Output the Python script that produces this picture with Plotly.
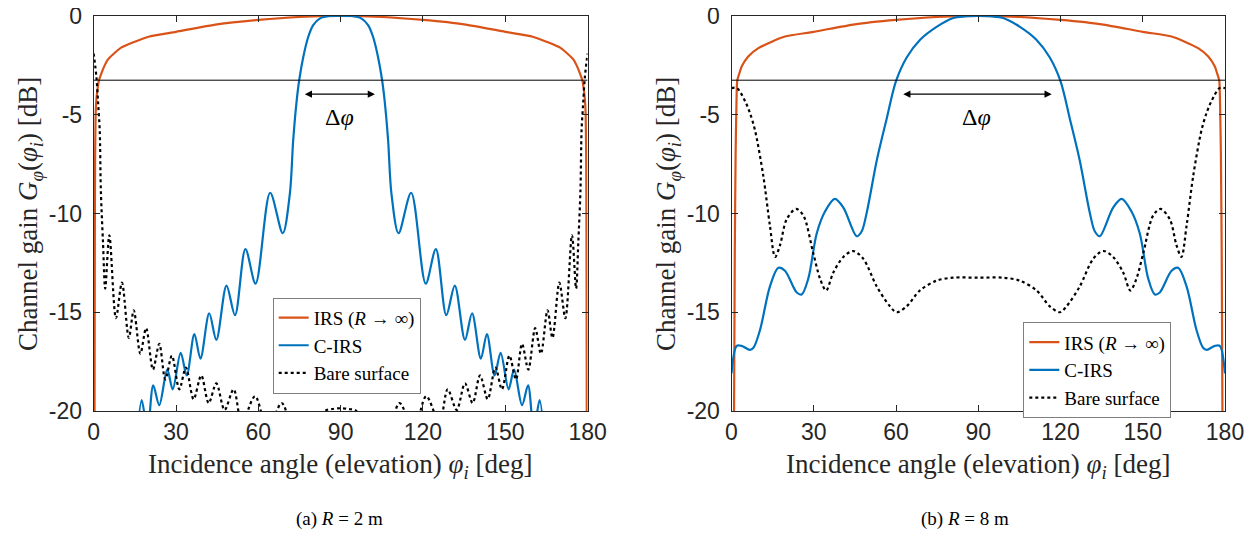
import plotly.graph_objects as go

# ---------------- data ----------------
# (a) R = 2 m
irs_a_phi = [0.3, 0.4, 0.5, 0.7, 1.0, 1.4, 1.9, 2.8, 4.0, 5.2, 7.0, 10, 15, 20, 30, 45, 60, 75, 90,
             105, 120, 135, 150, 160, 165, 170, 173, 174.8, 176.0, 177.2, 178.1, 178.6, 179.0, 179.3, 179.5, 179.6, 179.7]
irs_a_db = [-21, -12, -7.5, -5.0, -4.2, -3.7, -3.27, -2.9, -2.5, -2.2, -1.95, -1.6, -1.3, -1.05, -0.8, -0.42, -0.2, -0.05, 0,
            -0.05, -0.2, -0.42, -0.8, -1.05, -1.3, -1.6, -1.95, -2.2, -2.5, -2.9, -3.27, -3.7, -4.2, -5.0, -7.5, -12, -21]

cirs_a_phi = [15.5, 17.5, 19.6, 21.7, 23.9, 26.8, 28.8, 31.7, 33.9, 36.7, 38.9, 42.1, 44.7, 48.4, 51.5, 55.3, 59.0,
              64.3, 68.9, 71.5, 72.7, 74.0, 74.9, 76.4, 78.2, 80.0, 82.5, 86.0, 90.0,
              94.0, 97.5, 100.0, 101.8, 103.6, 105.1, 106.0, 107.3, 108.5, 111.1, 115.7, 121.0, 124.7, 128.5,
              131.6, 135.3, 137.9, 141.1, 143.3, 146.1, 148.3, 151.2, 153.2, 156.1, 158.3, 160.4, 162.5, 164.5]
cirs_a_db = [-22, -19.45, -21, -18.7, -19.7, -17.9, -18.9, -17.05, -18.2, -16.1, -17.35, -15.05, -16.4, -13.65, -15.15, -11.8, -13.55,
             -8.95, -11.0, -8.98, -6.3, -4.25, -3.24, -2.06, -1.05, -0.46, -0.12, 0, 0,
             0, -0.12, -0.46, -1.05, -2.06, -3.24, -4.25, -6.3, -8.98, -11.0, -8.95, -13.55, -11.8, -15.15,
             -13.65, -16.4, -15.05, -17.35, -16.1, -18.2, -17.05, -18.9, -17.9, -19.7, -18.7, -21, -19.45, -22]

bare_a_phi = [0, 1.0, 1.6, 2.2, 2.6, 3.4, 4.2, 5.7, 8.1, 10.3, 12.8, 14.6, 17.0, 19.1, 21.6, 23.9, 26.1, 28.5,
              31.2, 33.6, 36.4, 39.2, 41.9, 44.7, 47.7, 51.0, 54.0, 58.8, 63.5, 68.5, 75.0, 80.0, 84.3, 87.0, 90.0,
              93.0, 95.7, 100.0, 105.0, 111.5, 116.5, 121.2, 126.0, 129.0, 132.3, 135.3, 138.1, 140.8, 143.6, 146.4,
              148.8, 151.5, 153.9, 156.1, 158.4, 160.9, 163.0, 165.4, 167.2, 169.7, 171.9, 174.3, 175.8, 176.6,
              177.4, 177.8, 178.4, 179.0, 180.0]
bare_a_db = [-1.9, -3.1, -4.4, -5.8, -8.8, -11.5, -13.8, -11.1, -15.3, -13.5, -16.3, -14.9, -17.1, -15.8, -17.9, -16.6, -18.4, -17.2,
             -18.9, -17.8, -19.4, -18.2, -19.6, -18.6, -19.95, -18.9, -20.6, -19.25, -21, -19.6, -22, -22, -20.0, -19.9, -19.86,
             -19.9, -20.0, -22, -22, -19.6, -21, -19.25, -20.6, -18.9, -19.95, -18.6, -19.6, -18.2, -19.4, -17.8,
             -18.9, -17.2, -18.4, -16.6, -17.9, -15.8, -17.1, -14.9, -16.3, -13.5, -15.3, -11.1, -13.8, -11.5,
             -8.8, -5.8, -4.4, -3.1, -1.9]

# (b) R = 8 m
irs_b_phi = [0.9, 1.2, 1.5, 1.8, 2.1, 3.0, 3.7, 6.1, 9.8, 14.7, 19.5, 30, 45, 60, 75, 90,
             105, 120, 135, 150, 160.5, 165.3, 170.2, 173.9, 176.3, 177.0, 177.9, 178.2, 178.5, 178.8, 179.1]
irs_b_db = [-21, -12, -7.0, -4.5, -3.27, -2.85, -2.56, -2.05, -1.63, -1.3, -1.04, -0.8, -0.42, -0.2, -0.05, 0,
            -0.05, -0.2, -0.42, -0.8, -1.04, -1.3, -1.63, -2.05, -2.56, -2.85, -3.27, -4.5, -7.0, -12, -21]

cirs_b_phi = [0, 1.9, 3.7, 6.7, 8.0, 10.4, 14.0, 17.1, 19.5, 23.8, 25.6, 28.0, 31.1, 34.1, 37.7, 40.8, 45.7, 47.5,
              49.3, 53.0, 56.6, 60.0, 63.9, 68.8, 74.8, 80.9, 85.0, 90.0,
              95.0, 99.1, 105.2, 111.2, 116.1, 120.0, 123.4, 127.0, 130.7, 132.5, 134.3, 139.2, 142.3, 145.9, 148.9,
              152.0, 154.4, 156.2, 160.5, 162.9, 166.0, 169.6, 172.0, 173.3, 176.3, 178.1, 180.0]
cirs_b_db = [-18.1, -16.7, -16.7, -16.9, -16.8, -15.9, -13.7, -12.75, -12.9, -14.0, -14.1, -13.3, -11.0, -9.9, -9.26, -9.7, -11.15, -10.9,
             -9.97, -7.3, -5.2, -3.3, -2.1, -1.2, -0.55, -0.1, -0.02, 0,
             -0.02, -0.1, -0.55, -1.2, -2.1, -3.3, -5.2, -7.3, -9.97, -10.9, -11.15, -9.7, -9.26, -9.9, -11.0,
             -13.3, -14.1, -14.0, -12.9, -12.75, -13.7, -15.9, -16.8, -16.9, -16.7, -16.7, -18.1]

bare_b_phi = [0, 2.0, 4.9, 6.7, 8.6, 11.6, 14.0, 15.9, 17.7, 20.1, 23.5, 26.2, 29.8, 32.3, 34.5, 37.1, 40.8, 44.4,
              48.1, 53.0, 57.8, 60.2, 63.9, 68.7, 74.8, 80.9, 90.0,
              99.1, 105.2, 111.3, 116.1, 119.8, 122.2, 127.0, 131.9, 135.6, 139.2, 142.9, 145.5, 147.7, 150.2,
              153.8, 156.5, 159.9, 162.3, 164.1, 166.0, 168.4, 171.4, 173.3, 175.1, 178.0, 180.0]
bare_b_db = [-3.65, -3.65, -4.3, -4.9, -5.8, -8.1, -10.6, -12.2, -11.6, -10.3, -9.77, -10.1, -12.0, -13.3, -13.9, -13.0, -12.2, -11.9,
             -12.3, -13.7, -14.7, -15.0, -14.7, -13.9, -13.4, -13.25, -13.25,
             -13.25, -13.4, -13.9, -14.7, -15.0, -14.7, -13.7, -12.3, -11.9, -12.2, -13.0, -13.9, -13.3, -12.0,
             -10.1, -9.77, -10.3, -11.6, -12.2, -10.6, -8.1, -5.8, -4.9, -4.3, -3.65, -3.65]

threshold_db = -3.25            # horizontal reference line
arrow_a = [76.4, 102.5]         # Δφ arrow ends, panel (a)
arrow_b = [62.1, 116.8]         # Δφ arrow ends, panel (b)
arrow_db = -3.96
label_db = -5.1

series_names = ["IRS (<i>R</i> → ∞)", "C-IRS", "Bare surface"]
x_ticks = [0, 30, 60, 90, 120, 150, 180]
x_ticktext = ["0", "30", "60", "90", "120", "150", "180"]
y_ticks = [0, -5, -10, -15, -20]
y_ticktext = ["0", "-5", "-10", "-15", "-20"]
captions = ["(a) <i>R</i> = 2 m", "(b) <i>R</i> = 8 m"]

# ---------------- styling ----------------
W, H = 1255, 533
OFF = 8          # the page body margin shifts the figure by this many pixels
ORANGE = "#D95319"
BLUE = "#0072BD"
AX = "#262626"
SERIF = "Liberation Serif"
SANS = "Liberation Sans"


def px_x(p):
    return (p - OFF) / W


def px_y(p):
    return 1 - (p - OFF) / H


fig = go.Figure()

panels = [
    ("x", "y", "legend", irs_a_phi, irs_a_db, cirs_a_phi, cirs_a_db, bare_a_phi, bare_a_db),
    ("x2", "y2", "legend2", irs_b_phi, irs_b_db, cirs_b_phi, cirs_b_db, bare_b_phi, bare_b_db),
]
for xa, ya, lg, ip, idb, cp, cdb, bp, bdb in panels:
    fig.add_trace(go.Scatter(x=ip, y=idb, xaxis=xa, yaxis=ya, legend=lg, name=series_names[0], mode="lines",
                             line=dict(color=ORANGE, width=2.2, shape="spline", smoothing=0.6)))
    fig.add_trace(go.Scatter(x=cp, y=cdb, xaxis=xa, yaxis=ya, legend=lg, name=series_names[1], mode="lines",
                             line=dict(color=BLUE, width=2.2, shape="spline", smoothing=0.9)))
    fig.add_trace(go.Scatter(x=bp, y=bdb, xaxis=xa, yaxis=ya, legend=lg, name=series_names[2], mode="lines",
                             line=dict(color="black", width=2.2, dash="dot", shape="spline", smoothing=0.9)))

# plot-area positions (target pixels in the screenshot)
left_a, right_a = 93.7, 587.6
left_b, right_b = 731.5, 1225.0
top_px, bot_px = 16, 411

axis_common = dict(showline=True, linecolor=AX, linewidth=1, mirror="ticks", ticks="inside", ticklen=6,
                   tickcolor=AX, showgrid=False, zeroline=False, automargin=False, ticklabeloverflow="allow",
                   tickfont=dict(family=SANS, size=23, color=AX))
ydom = [px_y(bot_px), px_y(top_px)]
fig.update_layout(
    xaxis=dict(domain=[px_x(left_a), px_x(right_a)], range=[0, 180], tickvals=x_ticks, ticktext=x_ticktext,
               anchor="y", **axis_common),
    yaxis=dict(domain=ydom, range=[-20, 0], tickvals=y_ticks, ticktext=y_ticktext, anchor="x",
               ticklabelstandoff=6, **axis_common),
    xaxis2=dict(domain=[px_x(left_b), px_x(right_b)], range=[0, 180], tickvals=x_ticks, ticktext=x_ticktext,
                anchor="y2", **axis_common),
    yaxis2=dict(domain=ydom, range=[-20, 0], tickvals=y_ticks, ticktext=y_ticktext, anchor="x2",
                ticklabelstandoff=6, **axis_common),
)

legend_common = dict(bgcolor="white", bordercolor="#7f7f7f", borderwidth=1, xanchor="left", yanchor="top",
                     xref="paper", yref="paper",
                     font=dict(family=SERIF, size=19, color="black"), itemwidth=30, tracegroupgap=0)
fig.update_layout(
    legend=dict(x=px_x(272.7), y=px_y(297.7), **legend_common),
    legend2=dict(x=px_x(1023.3), y=px_y(322.3), **legend_common),
)

# threshold lines
for xa, ya in [("x", "y"), ("x2", "y2")]:
    fig.add_shape(type="line", xref=xa, yref=ya, x0=0, x1=180, y0=threshold_db, y1=threshold_db,
                  line=dict(color="black", width=1))

# Δφ arrows and labels
for xa, ya, ends in [("x", "y", arrow_a), ("x2", "y2", arrow_b)]:
    fig.add_annotation(xref=xa, yref=ya, axref=xa, ayref=ya, x=ends[1], y=arrow_db, ax=ends[0], ay=arrow_db,
                       text="", showarrow=True, arrowhead=2, arrowside="end+start", arrowsize=1.2,
                       arrowwidth=1.2, arrowcolor="black")
    fig.add_annotation(xref=xa, yref=ya, x=(ends[0] + ends[1]) / 2, y=label_db, text="Δ<i>φ</i>",
                       xanchor="center", yanchor="middle",
                       showarrow=False, font=dict(family=SERIF, size=24, color="black"))

# axis titles
for cx in [(left_a + right_a) / 2, (left_b + right_b) / 2]:
    fig.add_annotation(xref="paper", yref="paper", x=px_x(cx), y=px_y(466), showarrow=False,
                       xanchor="center", yanchor="middle",
                       text="Incidence angle (elevation) <i>φ</i><sub><i>i</i></sub> [deg]",
                       font=dict(family=SERIF, size=27, color=AX))
for cx in [30, 668]:
    fig.add_annotation(xref="paper", yref="paper", x=px_x(cx), y=px_y(214), showarrow=False, textangle=-90,
                       xanchor="center", yanchor="middle",
                       text="Channel gain <i>G</i><sub><i>φ</i></sub>(<i>φ</i><sub><i>i</i></sub>) [dB]",
                       font=dict(family=SERIF, size=27, color=AX))
# sub-captions
for cx, t in zip([340, 965], captions):
    fig.add_annotation(xref="paper", yref="paper", x=px_x(cx), y=px_y(519), showarrow=False, text=t,
                       xanchor="center", yanchor="middle",
                       font=dict(family=SERIF, size=19, color="black"))

fig.update_layout(width=W, height=H, autosize=False,
                  margin=dict(l=0, r=0, t=0, b=0, pad=0, autoexpand=False),
                  paper_bgcolor="white", plot_bgcolor="white", showlegend=True)

fig.write_html("out.html")
